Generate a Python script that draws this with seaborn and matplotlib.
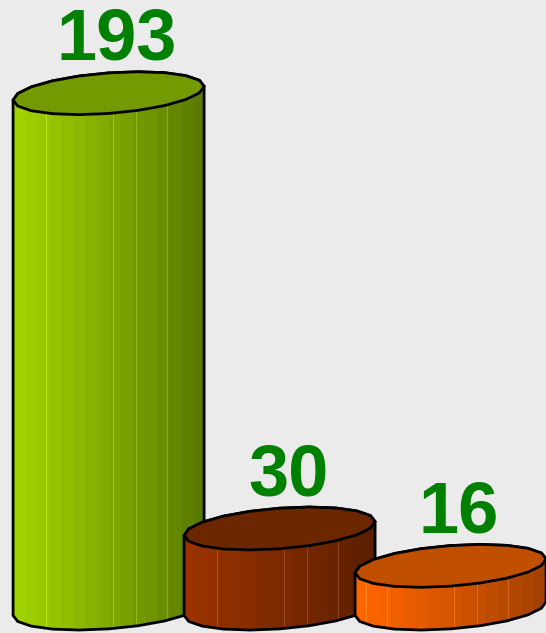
import numpy as np
import matplotlib
matplotlib.use("Agg")
import matplotlib.pyplot as plt
import seaborn as sns
import pandas as pd
from matplotlib.patches import Polygon
from matplotlib.colors import to_rgb

# datos del grafico
categories = ["A", "B", "C"]
values = [193, 30, 16]
side_left = ["#a0d200", "#9a3300", "#ff6600"]
side_right = ["#567500", "#591e00", "#9e3f00"]
top_colors = ["#739a00", "#6c2700", "#c04f00"]
label_color = "#008000"
bg = "#ebebeb"

df = pd.DataFrame({"cat": categories, "val": values})

sns.set_style("white")
fig = plt.figure(figsize=(5.46, 6.33), dpi=100, facecolor=bg)
ax = fig.add_axes([0, 0, 1, 1])
ax.set_facecolor(bg)

sns.barplot(data=df, x="cat", y="val", hue="cat", palette=side_left,
            width=1.117, legend=False, ax=ax)

xlim = (-0.635, 2.558)
ylim = (-9.14, 227.9)
b = 7.6   # semieje vertical de la elipse
k = 2.6   # inclinacion

def elipse(cx, cy, a, t):
    return np.column_stack([cx + a * np.cos(t), cy + b * np.sin(t) + k * np.cos(t)])

for i, p in enumerate(ax.patches[:len(values)]):
    x0, w, h = p.get_x(), p.get_width(), p.get_height()
    cx, a = x0 + w / 2, w / 2
    z = 2 + 3 * i
    # lado del cilindro
    t_bot = np.linspace(np.pi, 2 * np.pi, 11)
    t_top = np.linspace(0, np.pi, 11)
    lado = np.vstack([elipse(cx, 0, a, t_bot), elipse(cx, h, a, t_top)])
    poly = Polygon(lado, closed=True, facecolor="none", edgecolor="black",
                   lw=2.0, zorder=z + 0.2)
    ax.add_patch(poly)
    p.set_zorder(z)
    p.set_clip_path(poly)
    # degradado con facetas
    ncol = 200
    f = np.linspace(0, 1, ncol)
    fs = np.floor(f * 16) / 16
    c0, c1 = np.array(to_rgb(side_left[i])), np.array(to_rgb(side_right[i]))
    cols = c0 + (c1 - c0) * fs[:, None] ** 1.1
    for s in [0.06, 0.17, 0.52, 0.64, 0.8]:
        j = int(s * ncol)
        cols[j] = np.clip(cols[j] + 0.12, 0, 1)
    img = np.repeat(cols[None, :, :], 2, axis=0)
    im = ax.imshow(img, extent=[x0, x0 + w, -b - k, h + b + k], aspect="auto",
                   interpolation="nearest", zorder=z + 0.1)
    im.set_clip_path(poly)
    # tapa
    t = np.linspace(0, 2 * np.pi, 21)[:-1]
    tapa = Polygon(elipse(cx, h, a, t), closed=True, facecolor=top_colors[i],
                   edgecolor="black", lw=2.0, zorder=z + 0.3)
    ax.add_patch(tapa)
    ax.text(cx + 0.05, h + b + 12.0, str(values[i]), ha="center", va="center",
            fontsize=52, fontweight="bold", color=label_color,
            family=["Liberation Sans", "DejaVu Sans"], zorder=20)

ax.set_xlim(*xlim)
ax.set_ylim(*ylim)
ax.axis("off")
fig.savefig("out.png", dpi=100, facecolor=bg)
